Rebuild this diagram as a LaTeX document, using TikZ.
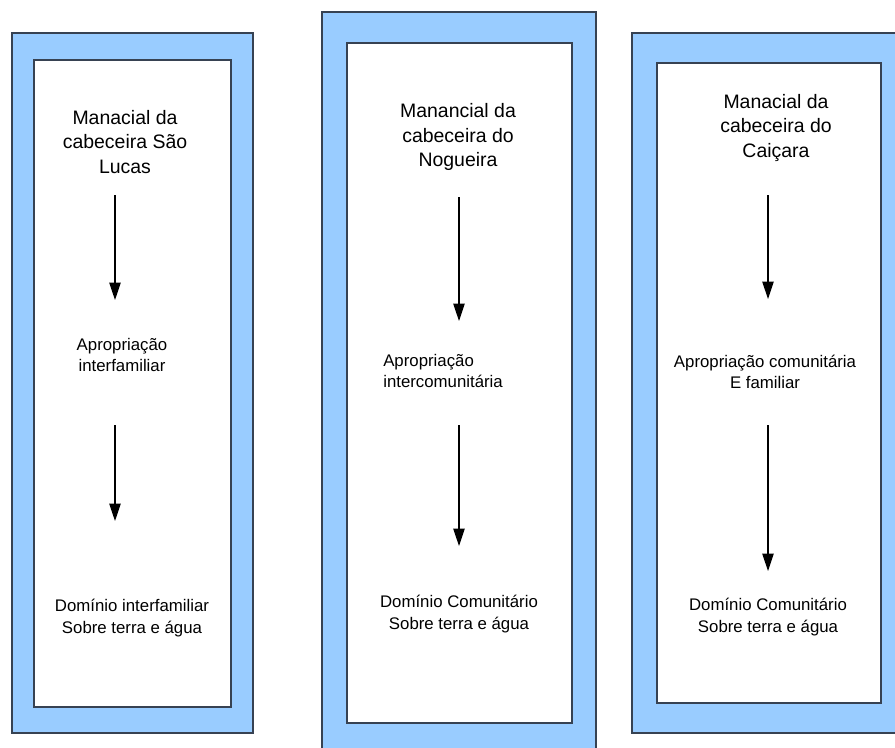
\documentclass[tikz,border=0pt]{standalone}
\usepackage{fontspec}
\setmainfont{Liberation Sans}
\definecolor{panelblue}{RGB}{153,204,255}
\definecolor{panelborder}{RGB}{55,66,82}
\usetikzlibrary{arrows.meta}

\begin{document}
\begin{tikzpicture}[x=0.75pt,y=-0.75pt,
    outerbox/.style={fill=panelblue,draw=panelborder,line width=0.9pt},
    innerbox/.style={fill=white,draw=panelborder,line width=0.9pt},
    headtext/.style={font=\fontsize{14.6}{18.6}\selectfont,align=center,inner sep=0pt},
    steptext/.style={font=\fontsize{12.6}{16.2}\selectfont,align=center,inner sep=0pt},
    flow/.style={-{Triangle[width=8.5pt,length=13pt]},line width=0.8pt}]
  \useasboundingbox (0,0) rectangle (895,747);

  % panels
  \draw[outerbox] (12,33) rectangle (253,733);
  \draw[innerbox] (34,60) rectangle (231,707);
  \draw[outerbox] (322,12) rectangle (596,760);
  \draw[innerbox] (347,43) rectangle (572,723);
  \draw[outerbox] (632,33) rectangle (905,733);
  \draw[innerbox] (657,63) rectangle (881,703);

  % Sao Lucas
  \node[headtext] (lucas) at (125,142) {Manacial da\\cabeceira São\\Lucas};
  \node[steptext] (lucasap) at (122,355) {Apropriação\\interfamiliar};
  \node[steptext] (lucasdom) at (132,618) {Domínio interfamiliar\\Sobre terra e água};
  \coordinate (l1a) at (115,195);
  \coordinate (l1b) at (115,300);
  \coordinate (l2a) at (115,425);
  \coordinate (l2b) at (115,521);
  \draw[flow] (l1a) -- (l1b);
  \draw[flow] (l2a) -- (l2b);

  % Nogueira
  \node[headtext] (nog) at (458,137) {Manancial da\\cabeceira do\\Nogueira};
  \node[steptext,align=left,anchor=west] (nogap) at (383,371) {Apropriação\\intercomunitária};
  \node[steptext] (nogdom) at (459,614) {Domínio Comunitário\\Sobre terra e água};
  \coordinate (n1a) at (459,197);
  \coordinate (n1b) at (459,321);
  \coordinate (n2a) at (459,425);
  \coordinate (n2b) at (459,546);
  \draw[flow] (n1a) -- (n1b);
  \draw[flow] (n2a) -- (n2b);

  % Caicara
  \node[headtext] (cai) at (776,128) {Manacial da\\cabeceira do\\Caiçara};
  \node[steptext] (caiap) at (765,372) {Apropriação comunitária\\E familiar};
  \node[steptext] (caidom) at (768,617) {Domínio Comunitário\\Sobre terra e água};
  \coordinate (c1a) at (768,195);
  \coordinate (c1b) at (768,299);
  \coordinate (c2a) at (768,425);
  \coordinate (c2b) at (768,571);
  \draw[flow] (c1a) -- (c1b);
  \draw[flow] (c2a) -- (c2b);
\end{tikzpicture}
\end{document}
